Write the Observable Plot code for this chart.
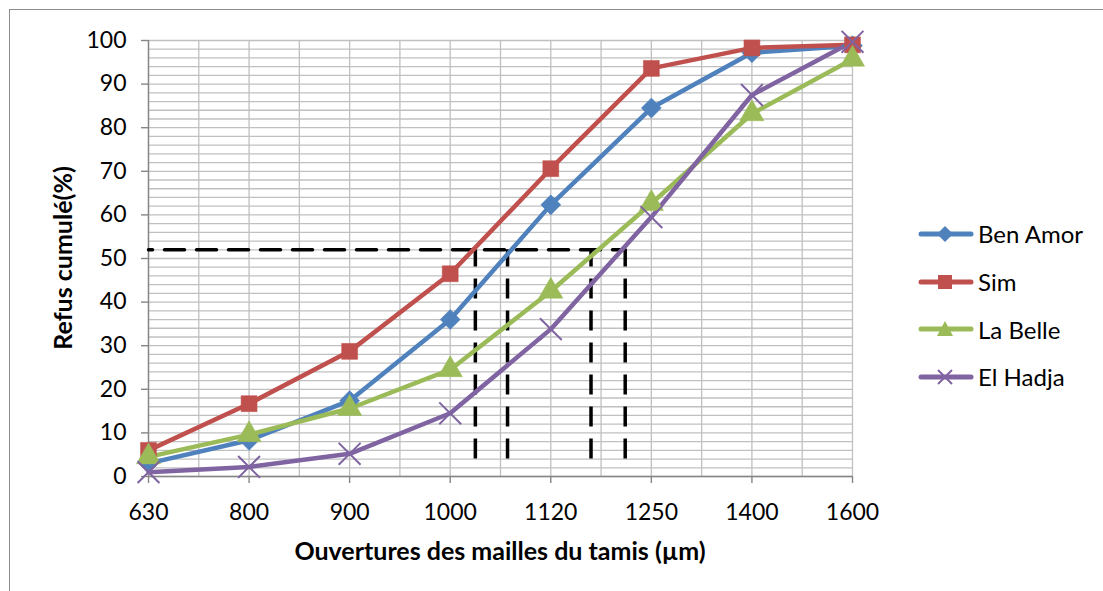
<!DOCTYPE html>
<html><head><meta charset="utf-8">
<script src="https://cdn.jsdelivr.net/npm/d3@7"></script>
<script src="https://cdn.jsdelivr.net/npm/@observablehq/plot@0.6"></script>
<style>
body{margin:0;background:#fff;}
#wrap{position:relative;width:1103px;height:591px;font-family:Lato, sans-serif;color:#000;overflow:hidden;}
#frame{position:absolute;left:9px;top:9px;width:1200px;height:700px;border-left:1.5px solid #8c8c8c;border-top:1.5px solid #8c8c8c;}
#chart{position:absolute;left:0;top:0;}
#xtitle{position:absolute;left:148px;width:704px;top:535px;text-align:center;font-weight:bold;font-size:25px;}
#ytitle{position:absolute;left:62px;top:258px;transform:translate(-50%,-50%) rotate(-90deg);font-weight:bold;font-size:25px;white-space:nowrap;}
#legend{position:absolute;left:918px;top:210px;font-size:24px;}
.li{display:flex;align-items:center;height:47.7px;}
.li svg{margin-right:4px;}
</style></head>
<body><div id="wrap"><div id="frame"></div><div id="chart"></div>
<div id="xtitle">Ouvertures des mailles du tamis (µm)</div>
<div id="ytitle">Refus cumulé(%)</div>
<div id="legend"></div></div>
<script>
const categories = ["630", "800", "900", "1000", "1120", "1250", "1400", "1600"];
const benAmor = [3, 8.3, 17.4, 36, 62.3, 84.5, 97.2, 98.8];
const sim = [6, 16.7, 28.7, 46.5, 70.6, 93.6, 98.3, 99];
const laBelle = [4.5, 9.6, 15.6, 24.5, 42.5, 62.6, 83.2, 95.7];
const elHadja = [1, 2.2, 5.2, 14.5, 33.8, 59.5, 87.5, 99.7];
const seriesNames = ["Ben Amor", "Sim", "La Belle", "El Hadja"];
const seriesColors = ["#4F81BD", "#C0504D", "#9BBB59", "#8064A2"];
const yTicks = [0, 10, 20, 30, 40, 50, 60, 70, 80, 90, 100];
// reference construction: level 52 %, read-off positions along the sieve axis (category index units)
const refLevel = 52;
const refPositions = [3.25, 3.57, 4.40, 4.74];
const refBottom = 4;

const seriesValues = [benAmor, sim, laBelle, elHadja];
const rows = [];
seriesValues.forEach((vals, s) => vals.forEach((v, i) => rows.push({i, v, s: seriesNames[s]})));

const diamond = {draw(ctx, size){ const r = Math.sqrt(size/2); ctx.moveTo(0,-r); ctx.lineTo(r,0); ctx.lineTo(0,r); ctx.lineTo(-r,0); ctx.closePath(); }};
const symbols = {"Ben Amor": diamond, "Sim": "square", "La Belle": "triangle", "El Hadja": "times"};
const color = s => seriesColors[seriesNames.indexOf(s)];

const idx = d3.range(categories.length);
const chart = Plot.plot({
  width: 1103, height: 591,
  marginLeft: 148, marginRight: 251, marginTop: 40, marginBottom: 115,
  style: {fontFamily: "Lato, sans-serif", fontSize: "23px", color: "#000", background: "transparent"},
  x: {domain: [0, categories.length - 1]},
  y: {domain: [0, 100]},
  marks: [
    Plot.ruleY(d3.range(0, 101, 2), {stroke: "#C0C0C0", strokeWidth: 1.3}),
    Plot.ruleX(d3.range(0, categories.length - 0.99, 0.5), {stroke: "#C0C0C0", strokeWidth: 1.3}),
    Plot.ruleX([0], {stroke: "#868686", strokeWidth: 1.4}),
    Plot.ruleY([0], {stroke: "#868686", strokeWidth: 1.4}),
    Plot.axisY({ticks: yTicks, tickSize: 7, tickPadding: 15, stroke: "#868686", strokeWidth: 1.4, label: null, fontSize: 23}),
    Plot.axisX({ticks: idx, tickFormat: i => categories[i], tickSize: 7, tickPadding: 20, stroke: "#868686", strokeWidth: 1.4, label: null, fontSize: 23}),
    Plot.line([{x: 0, y: refLevel}, {x: refPositions[refPositions.length - 1], y: refLevel}], {x: "x", y: "y", stroke: "#000", strokeWidth: 3.5, strokeDasharray: "20,12", strokeDashoffset: -16}),
    Plot.ruleX(refPositions, {y1: refBottom, y2: refLevel, stroke: "#000", strokeWidth: 3.5, strokeDasharray: "20,12"}),
    ...seriesNames.map(name => Plot.line(rows.filter(d => d.s === name), {x: "i", y: "v", stroke: color(name), strokeWidth: 4.5})),
    ...seriesNames.map(name => Plot.dot(rows.filter(d => d.s === name), {
      x: "i", y: "v", symbol: () => symbols[name],
      r: name === "El Hadja" ? 10 : (name === "Ben Amor" ? 8 : 9),
      fill: name === "El Hadja" ? "none" : color(name),
      stroke: color(name), strokeWidth: name === "El Hadja" ? 2 : 0.5
    }))
  ]
});
document.getElementById("chart").appendChild(chart);

// legend
const leg = document.getElementById("legend");
seriesNames.forEach((name, k) => {
  const row = document.createElement("div"); row.className = "li";
  const c = seriesColors[k];
  let mk;
  if (k === 0) mk = `<path d="M27,3 L35,11 L27,19 L19,11 Z" fill="${c}"/>`;
  else if (k === 1) mk = `<rect x="20" y="4" width="14" height="14" fill="${c}"/>`;
  else if (k === 2) mk = `<path d="M27,3 L35,18 L19,18 Z" fill="${c}"/>`;
  else mk = `<path d="M20,4 L34,18 M34,4 L20,18" stroke="${c}" stroke-width="2"/>`;
  row.innerHTML = `<svg width="56" height="22"><line x1="3" y1="11" x2="53" y2="11" stroke="${c}" stroke-width="5" stroke-linecap="round"/>${mk}</svg><span>${name}</span>`;
  leg.appendChild(row);
});
</script>
</body></html>
